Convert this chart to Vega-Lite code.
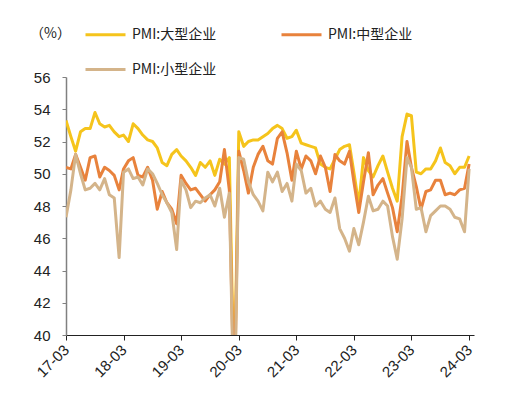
{
  "$schema": "https://vega.github.io/schema/vega-lite/v6.json",
  "width": 408,
  "height": 258,
  "autosize": {"type": "none"},
  "padding": {"left": 66, "top": 77, "right": 56, "bottom": 68},
  "background": "white",
  "data": {
    "values": [
      {"month": "2017-03", "series": "PMI:大型企业", "value": 53.3},
      {"month": "2017-04", "series": "PMI:大型企业", "value": 52.3},
      {"month": "2017-05", "series": "PMI:大型企业", "value": 51.4},
      {"month": "2017-06", "series": "PMI:大型企业", "value": 52.6},
      {"month": "2017-07", "series": "PMI:大型企业", "value": 52.8},
      {"month": "2017-08", "series": "PMI:大型企业", "value": 52.8},
      {"month": "2017-09", "series": "PMI:大型企业", "value": 53.8},
      {"month": "2017-10", "series": "PMI:大型企业", "value": 53.1},
      {"month": "2017-11", "series": "PMI:大型企业", "value": 52.9},
      {"month": "2017-12", "series": "PMI:大型企业", "value": 53.0},
      {"month": "2018-01", "series": "PMI:大型企业", "value": 52.6},
      {"month": "2018-02", "series": "PMI:大型企业", "value": 52.3},
      {"month": "2018-03", "series": "PMI:大型企业", "value": 52.4},
      {"month": "2018-04", "series": "PMI:大型企业", "value": 52.0},
      {"month": "2018-05", "series": "PMI:大型企业", "value": 53.1},
      {"month": "2018-06", "series": "PMI:大型企业", "value": 52.8},
      {"month": "2018-07", "series": "PMI:大型企业", "value": 52.4},
      {"month": "2018-08", "series": "PMI:大型企业", "value": 52.1},
      {"month": "2018-09", "series": "PMI:大型企业", "value": 52.0},
      {"month": "2018-10", "series": "PMI:大型企业", "value": 51.6},
      {"month": "2018-11", "series": "PMI:大型企业", "value": 50.7},
      {"month": "2018-12", "series": "PMI:大型企业", "value": 50.5},
      {"month": "2019-01", "series": "PMI:大型企业", "value": 51.2},
      {"month": "2019-02", "series": "PMI:大型企业", "value": 51.5},
      {"month": "2019-03", "series": "PMI:大型企业", "value": 51.1},
      {"month": "2019-04", "series": "PMI:大型企业", "value": 50.8},
      {"month": "2019-05", "series": "PMI:大型企业", "value": 50.4},
      {"month": "2019-06", "series": "PMI:大型企业", "value": 49.9},
      {"month": "2019-07", "series": "PMI:大型企业", "value": 50.7},
      {"month": "2019-08", "series": "PMI:大型企业", "value": 50.4},
      {"month": "2019-09", "series": "PMI:大型企业", "value": 50.8},
      {"month": "2019-10", "series": "PMI:大型企业", "value": 49.9},
      {"month": "2019-11", "series": "PMI:大型企业", "value": 50.9},
      {"month": "2019-12", "series": "PMI:大型企业", "value": 50.6},
      {"month": "2020-01", "series": "PMI:大型企业", "value": 51.0},
      {"month": "2020-02", "series": "PMI:大型企业", "value": 36.2},
      {"month": "2020-03", "series": "PMI:大型企业", "value": 52.6},
      {"month": "2020-04", "series": "PMI:大型企业", "value": 51.7},
      {"month": "2020-05", "series": "PMI:大型企业", "value": 52.0},
      {"month": "2020-06", "series": "PMI:大型企业", "value": 52.1},
      {"month": "2020-07", "series": "PMI:大型企业", "value": 52.1},
      {"month": "2020-08", "series": "PMI:大型企业", "value": 52.3},
      {"month": "2020-09", "series": "PMI:大型企业", "value": 52.5},
      {"month": "2020-10", "series": "PMI:大型企业", "value": 52.8},
      {"month": "2020-11", "series": "PMI:大型企业", "value": 53.0},
      {"month": "2020-12", "series": "PMI:大型企业", "value": 52.8},
      {"month": "2021-01", "series": "PMI:大型企业", "value": 52.2},
      {"month": "2021-02", "series": "PMI:大型企业", "value": 52.3},
      {"month": "2021-03", "series": "PMI:大型企业", "value": 52.7},
      {"month": "2021-04", "series": "PMI:大型企业", "value": 51.9},
      {"month": "2021-05", "series": "PMI:大型企业", "value": 51.8},
      {"month": "2021-06", "series": "PMI:大型企业", "value": 51.7},
      {"month": "2021-07", "series": "PMI:大型企业", "value": 51.6},
      {"month": "2021-08", "series": "PMI:大型企业", "value": 50.6},
      {"month": "2021-09", "series": "PMI:大型企业", "value": 50.4},
      {"month": "2021-10", "series": "PMI:大型企业", "value": 50.3},
      {"month": "2021-11", "series": "PMI:大型企业", "value": 50.9},
      {"month": "2021-12", "series": "PMI:大型企业", "value": 51.5},
      {"month": "2022-01", "series": "PMI:大型企业", "value": 51.7},
      {"month": "2022-02", "series": "PMI:大型企业", "value": 51.8},
      {"month": "2022-03", "series": "PMI:大型企业", "value": 50.1},
      {"month": "2022-04", "series": "PMI:大型企业", "value": 48.1},
      {"month": "2022-05", "series": "PMI:大型企业", "value": 51.0},
      {"month": "2022-06", "series": "PMI:大型企业", "value": 50.2},
      {"month": "2022-07", "series": "PMI:大型企业", "value": 49.8},
      {"month": "2022-08", "series": "PMI:大型企业", "value": 50.5},
      {"month": "2022-09", "series": "PMI:大型企业", "value": 51.1},
      {"month": "2022-10", "series": "PMI:大型企业", "value": 50.1},
      {"month": "2022-11", "series": "PMI:大型企业", "value": 49.1},
      {"month": "2022-12", "series": "PMI:大型企业", "value": 48.3},
      {"month": "2023-01", "series": "PMI:大型企业", "value": 52.3},
      {"month": "2023-02", "series": "PMI:大型企业", "value": 53.7},
      {"month": "2023-03", "series": "PMI:大型企业", "value": 53.6},
      {"month": "2023-04", "series": "PMI:大型企业", "value": 50.1},
      {"month": "2023-05", "series": "PMI:大型企业", "value": 50.0},
      {"month": "2023-06", "series": "PMI:大型企业", "value": 50.3},
      {"month": "2023-07", "series": "PMI:大型企业", "value": 50.3},
      {"month": "2023-08", "series": "PMI:大型企业", "value": 50.8},
      {"month": "2023-09", "series": "PMI:大型企业", "value": 51.6},
      {"month": "2023-10", "series": "PMI:大型企业", "value": 50.7},
      {"month": "2023-11", "series": "PMI:大型企业", "value": 50.5},
      {"month": "2023-12", "series": "PMI:大型企业", "value": 50.0},
      {"month": "2024-01", "series": "PMI:大型企业", "value": 50.4},
      {"month": "2024-02", "series": "PMI:大型企业", "value": 50.4},
      {"month": "2024-03", "series": "PMI:大型企业", "value": 51.1},

      {"month": "2017-03", "series": "PMI:中型企业", "value": 50.4},
      {"month": "2017-04", "series": "PMI:中型企业", "value": 50.3},
      {"month": "2017-05", "series": "PMI:中型企业", "value": 51.2},
      {"month": "2017-06", "series": "PMI:中型企业", "value": 50.4},
      {"month": "2017-07", "series": "PMI:中型企业", "value": 49.6},
      {"month": "2017-08", "series": "PMI:中型企业", "value": 51.0},
      {"month": "2017-09", "series": "PMI:中型企业", "value": 51.1},
      {"month": "2017-10", "series": "PMI:中型企业", "value": 49.8},
      {"month": "2017-11", "series": "PMI:中型企业", "value": 50.4},
      {"month": "2017-12", "series": "PMI:中型企业", "value": 50.2},
      {"month": "2018-01", "series": "PMI:中型企业", "value": 49.9},
      {"month": "2018-02", "series": "PMI:中型企业", "value": 49.0},
      {"month": "2018-03", "series": "PMI:中型企业", "value": 50.3},
      {"month": "2018-04", "series": "PMI:中型企业", "value": 50.8},
      {"month": "2018-05", "series": "PMI:中型企业", "value": 51.0},
      {"month": "2018-06", "series": "PMI:中型企业", "value": 49.9},
      {"month": "2018-07", "series": "PMI:中型企业", "value": 49.8},
      {"month": "2018-08", "series": "PMI:中型企业", "value": 50.4},
      {"month": "2018-09", "series": "PMI:中型企业", "value": 49.6},
      {"month": "2018-10", "series": "PMI:中型企业", "value": 47.8},
      {"month": "2018-11", "series": "PMI:中型企业", "value": 48.9},
      {"month": "2018-12", "series": "PMI:中型企业", "value": 48.2},
      {"month": "2019-01", "series": "PMI:中型企业", "value": 47.8},
      {"month": "2019-02", "series": "PMI:中型企业", "value": 46.9},
      {"month": "2019-03", "series": "PMI:中型企业", "value": 49.9},
      {"month": "2019-04", "series": "PMI:中型企业", "value": 49.4},
      {"month": "2019-05", "series": "PMI:中型企业", "value": 49.0},
      {"month": "2019-06", "series": "PMI:中型企业", "value": 49.1},
      {"month": "2019-07", "series": "PMI:中型企业", "value": 48.7},
      {"month": "2019-08", "series": "PMI:中型企业", "value": 48.3},
      {"month": "2019-09", "series": "PMI:中型企业", "value": 48.7},
      {"month": "2019-10", "series": "PMI:中型企业", "value": 49.0},
      {"month": "2019-11", "series": "PMI:中型企业", "value": 49.5},
      {"month": "2019-12", "series": "PMI:中型企业", "value": 51.5},
      {"month": "2020-01", "series": "PMI:中型企业", "value": 49.0},
      {"month": "2020-02", "series": "PMI:中型企业", "value": 35.5},
      {"month": "2020-03", "series": "PMI:中型企业", "value": 51.4},
      {"month": "2020-04", "series": "PMI:中型企业", "value": 50.2},
      {"month": "2020-05", "series": "PMI:中型企业", "value": 48.8},
      {"month": "2020-06", "series": "PMI:中型企业", "value": 50.4},
      {"month": "2020-07", "series": "PMI:中型企业", "value": 51.2},
      {"month": "2020-08", "series": "PMI:中型企业", "value": 51.7},
      {"month": "2020-09", "series": "PMI:中型企业", "value": 50.8},
      {"month": "2020-10", "series": "PMI:中型企业", "value": 50.6},
      {"month": "2020-11", "series": "PMI:中型企业", "value": 52.2},
      {"month": "2020-12", "series": "PMI:中型企业", "value": 52.6},
      {"month": "2021-01", "series": "PMI:中型企业", "value": 51.3},
      {"month": "2021-02", "series": "PMI:中型企业", "value": 49.6},
      {"month": "2021-03", "series": "PMI:中型企业", "value": 51.4},
      {"month": "2021-04", "series": "PMI:中型企业", "value": 50.3},
      {"month": "2021-05", "series": "PMI:中型企业", "value": 51.1},
      {"month": "2021-06", "series": "PMI:中型企业", "value": 50.8},
      {"month": "2021-07", "series": "PMI:中型企业", "value": 50.0},
      {"month": "2021-08", "series": "PMI:中型企业", "value": 51.1},
      {"month": "2021-09", "series": "PMI:中型企业", "value": 50.4},
      {"month": "2021-10", "series": "PMI:中型企业", "value": 48.9},
      {"month": "2021-11", "series": "PMI:中型企业", "value": 51.2},
      {"month": "2021-12", "series": "PMI:中型企业", "value": 50.8},
      {"month": "2022-01", "series": "PMI:中型企业", "value": 50.6},
      {"month": "2022-02", "series": "PMI:中型企业", "value": 51.4},
      {"month": "2022-03", "series": "PMI:中型企业", "value": 49.5},
      {"month": "2022-04", "series": "PMI:中型企业", "value": 47.6},
      {"month": "2022-05", "series": "PMI:中型企业", "value": 49.5},
      {"month": "2022-06", "series": "PMI:中型企业", "value": 51.3},
      {"month": "2022-07", "series": "PMI:中型企业", "value": 48.7},
      {"month": "2022-08", "series": "PMI:中型企业", "value": 49.3},
      {"month": "2022-09", "series": "PMI:中型企业", "value": 49.7},
      {"month": "2022-10", "series": "PMI:中型企业", "value": 48.8},
      {"month": "2022-11", "series": "PMI:中型企业", "value": 47.9},
      {"month": "2022-12", "series": "PMI:中型企业", "value": 46.4},
      {"month": "2023-01", "series": "PMI:中型企业", "value": 48.6},
      {"month": "2023-02", "series": "PMI:中型企业", "value": 52.0},
      {"month": "2023-03", "series": "PMI:中型企业", "value": 50.4},
      {"month": "2023-04", "series": "PMI:中型企业", "value": 49.2},
      {"month": "2023-05", "series": "PMI:中型企业", "value": 47.8},
      {"month": "2023-06", "series": "PMI:中型企业", "value": 48.9},
      {"month": "2023-07", "series": "PMI:中型企业", "value": 49.0},
      {"month": "2023-08", "series": "PMI:中型企业", "value": 49.6},
      {"month": "2023-09", "series": "PMI:中型企业", "value": 49.6},
      {"month": "2023-10", "series": "PMI:中型企业", "value": 48.7},
      {"month": "2023-11", "series": "PMI:中型企业", "value": 48.8},
      {"month": "2023-12", "series": "PMI:中型企业", "value": 48.7},
      {"month": "2024-01", "series": "PMI:中型企业", "value": 49.0},
      {"month": "2024-02", "series": "PMI:中型企业", "value": 49.1},
      {"month": "2024-03", "series": "PMI:中型企业", "value": 50.6},

      {"month": "2017-03", "series": "PMI:小型企业", "value": 47.3},
      {"month": "2017-04", "series": "PMI:小型企业", "value": 49.0},
      {"month": "2017-05", "series": "PMI:小型企业", "value": 51.2},
      {"month": "2017-06", "series": "PMI:小型企业", "value": 50.0},
      {"month": "2017-07", "series": "PMI:小型企业", "value": 49.0},
      {"month": "2017-08", "series": "PMI:小型企业", "value": 49.1},
      {"month": "2017-09", "series": "PMI:小型企业", "value": 49.4},
      {"month": "2017-10", "series": "PMI:小型企业", "value": 49.0},
      {"month": "2017-11", "series": "PMI:小型企业", "value": 49.7},
      {"month": "2017-12", "series": "PMI:小型企业", "value": 48.7},
      {"month": "2018-01", "series": "PMI:小型企业", "value": 48.5},
      {"month": "2018-02", "series": "PMI:小型企业", "value": 44.8},
      {"month": "2018-03", "series": "PMI:小型企业", "value": 50.1},
      {"month": "2018-04", "series": "PMI:小型企业", "value": 50.3},
      {"month": "2018-05", "series": "PMI:小型企业", "value": 49.7},
      {"month": "2018-06", "series": "PMI:小型企业", "value": 49.8},
      {"month": "2018-07", "series": "PMI:小型企业", "value": 49.3},
      {"month": "2018-08", "series": "PMI:小型企业", "value": 50.3},
      {"month": "2018-09", "series": "PMI:小型企业", "value": 50.0},
      {"month": "2018-10", "series": "PMI:小型企业", "value": 49.4},
      {"month": "2018-11", "series": "PMI:小型企业", "value": 48.7},
      {"month": "2018-12", "series": "PMI:小型企业", "value": 48.2},
      {"month": "2019-01", "series": "PMI:小型企业", "value": 47.6},
      {"month": "2019-02", "series": "PMI:小型企业", "value": 45.3},
      {"month": "2019-03", "series": "PMI:小型企业", "value": 49.6},
      {"month": "2019-04", "series": "PMI:小型企业", "value": 49.0},
      {"month": "2019-05", "series": "PMI:小型企业", "value": 47.9},
      {"month": "2019-06", "series": "PMI:小型企业", "value": 48.3},
      {"month": "2019-07", "series": "PMI:小型企业", "value": 48.2},
      {"month": "2019-08", "series": "PMI:小型企业", "value": 48.5},
      {"month": "2019-09", "series": "PMI:小型企业", "value": 48.7},
      {"month": "2019-10", "series": "PMI:小型企业", "value": 48.0},
      {"month": "2019-11", "series": "PMI:小型企业", "value": 49.1},
      {"month": "2019-12", "series": "PMI:小型企业", "value": 47.3},
      {"month": "2020-01", "series": "PMI:小型企业", "value": 48.8},
      {"month": "2020-02", "series": "PMI:小型企业", "value": 34.1},
      {"month": "2020-03", "series": "PMI:小型企业", "value": 51.0},
      {"month": "2020-04", "series": "PMI:小型企业", "value": 50.9},
      {"month": "2020-05", "series": "PMI:小型企业", "value": 49.5},
      {"month": "2020-06", "series": "PMI:小型企业", "value": 48.7},
      {"month": "2020-07", "series": "PMI:小型企业", "value": 48.3},
      {"month": "2020-08", "series": "PMI:小型企业", "value": 47.7},
      {"month": "2020-09", "series": "PMI:小型企业", "value": 50.1},
      {"month": "2020-10", "series": "PMI:小型企业", "value": 49.5},
      {"month": "2020-11", "series": "PMI:小型企业", "value": 50.1},
      {"month": "2020-12", "series": "PMI:小型企业", "value": 48.9},
      {"month": "2021-01", "series": "PMI:小型企业", "value": 49.4},
      {"month": "2021-02", "series": "PMI:小型企业", "value": 48.3},
      {"month": "2021-03", "series": "PMI:小型企业", "value": 50.6},
      {"month": "2021-04", "series": "PMI:小型企业", "value": 50.2},
      {"month": "2021-05", "series": "PMI:小型企业", "value": 48.8},
      {"month": "2021-06", "series": "PMI:小型企业", "value": 49.1},
      {"month": "2021-07", "series": "PMI:小型企业", "value": 48.0},
      {"month": "2021-08", "series": "PMI:小型企业", "value": 48.3},
      {"month": "2021-09", "series": "PMI:小型企业", "value": 47.8},
      {"month": "2021-10", "series": "PMI:小型企业", "value": 47.6},
      {"month": "2021-11", "series": "PMI:小型企业", "value": 48.5},
      {"month": "2021-12", "series": "PMI:小型企业", "value": 46.6},
      {"month": "2022-01", "series": "PMI:小型企业", "value": 46.0},
      {"month": "2022-02", "series": "PMI:小型企业", "value": 45.2},
      {"month": "2022-03", "series": "PMI:小型企业", "value": 46.6},
      {"month": "2022-04", "series": "PMI:小型企业", "value": 45.6},
      {"month": "2022-05", "series": "PMI:小型企业", "value": 47.0},
      {"month": "2022-06", "series": "PMI:小型企业", "value": 48.6},
      {"month": "2022-07", "series": "PMI:小型企业", "value": 47.7},
      {"month": "2022-08", "series": "PMI:小型企业", "value": 47.8},
      {"month": "2022-09", "series": "PMI:小型企业", "value": 48.3},
      {"month": "2022-10", "series": "PMI:小型企业", "value": 48.0},
      {"month": "2022-11", "series": "PMI:小型企业", "value": 46.1},
      {"month": "2022-12", "series": "PMI:小型企业", "value": 44.7},
      {"month": "2023-01", "series": "PMI:小型企业", "value": 47.2},
      {"month": "2023-02", "series": "PMI:小型企业", "value": 51.0},
      {"month": "2023-03", "series": "PMI:小型企业", "value": 50.4},
      {"month": "2023-04", "series": "PMI:小型企业", "value": 47.8},
      {"month": "2023-05", "series": "PMI:小型企业", "value": 47.9},
      {"month": "2023-06", "series": "PMI:小型企业", "value": 46.4},
      {"month": "2023-07", "series": "PMI:小型企业", "value": 47.4},
      {"month": "2023-08", "series": "PMI:小型企业", "value": 47.7},
      {"month": "2023-09", "series": "PMI:小型企业", "value": 48.0},
      {"month": "2023-10", "series": "PMI:小型企业", "value": 48.0},
      {"month": "2023-11", "series": "PMI:小型企业", "value": 47.8},
      {"month": "2023-12", "series": "PMI:小型企业", "value": 47.3},
      {"month": "2024-01", "series": "PMI:小型企业", "value": 47.2},
      {"month": "2024-02", "series": "PMI:小型企业", "value": 46.4},
      {"month": "2024-03", "series": "PMI:小型企业", "value": 50.3}
    ],
    "format": {"parse": {"month": "utc:'%Y-%m'"}}
  },
  "mark": {"type": "line", "strokeWidth": 3, "clip": true, "strokeJoin": "round"},
  "encoding": {
    "x": {
      "field": "month",
      "type": "temporal",
      "scale": {
        "type": "utc",
        "domain": [
          {"year": 2017, "month": 3, "date": 1, "utc": true},
          {"year": 2024, "month": 4, "date": 1, "utc": true}
        ]
      },
      "axis": {
        "title": null,
        "format": "%y-%m",
        "values": [
          {"year": 2017, "month": 3, "date": 1, "utc": true},
          {"year": 2018, "month": 3, "date": 1, "utc": true},
          {"year": 2019, "month": 3, "date": 1, "utc": true},
          {"year": 2020, "month": 3, "date": 1, "utc": true},
          {"year": 2021, "month": 3, "date": 1, "utc": true},
          {"year": 2022, "month": 3, "date": 1, "utc": true},
          {"year": 2023, "month": 3, "date": 1, "utc": true},
          {"year": 2024, "month": 3, "date": 1, "utc": true}
        ],
        "grid": false,
        "labelAngle": -45,
        "labelAlign": "right",
        "labelBaseline": "middle",
        "labelPadding": 7,
        "labelFontSize": 15,
        "labelColor": "#222222",
        "labelFont": "Liberation Sans",
        "domainColor": "#222222",
        "tickColor": "#222222",
        "tickSize": 5,
        "labelOverlap": false
      }
    },
    "y": {
      "field": "value",
      "type": "quantitative",
      "scale": {"domain": [40, 56], "nice": false, "zero": false},
      "axis": {
        "title": "（%）",
        "titleAngle": 0,
        "titleX": -16,
        "titleY": -44,
        "titleAlign": "center",
        "titleBaseline": "middle",
        "titleFontSize": 14,
        "titleFontWeight": "normal",
        "titleFont": "Noto Sans CJK SC",
        "titleColor": "#222222",
        "values": [40, 42, 44, 46, 48, 50, 52, 54, 56],
        "grid": false,
        "labelFontSize": 15,
        "labelColor": "#222222",
        "labelFont": "Liberation Sans",
        "labelPadding": 12,
        "domainColor": "#808080",
        "domainWidth": 1.5,
        "tickColor": "#808080",
        "tickSize": 4
      }
    },
    "color": {
      "field": "series",
      "type": "nominal",
      "scale": {
        "domain": ["PMI:大型企业", "PMI:中型企业", "PMI:小型企业"],
        "range": ["#F5C41C", "#E8823C", "#D4B48A"]
      },
      "legend": {
        "title": null,
        "orient": "none",
        "legendX": 18,
        "legendY": -64,
        "direction": "horizontal",
        "columns": 2,
        "columnPadding": 58,
        "rowPadding": 6,
        "symbolType": "stroke",
        "symbolSize": 1600,
        "symbolStrokeWidth": 3,
        "labelFontSize": 14,
        "labelFont": "Noto Sans CJK SC",
        "labelColor": "#222222",
        "labelOffset": 5
      }
    }
  },
  "config": {
    "view": {"stroke": null},
    "font": "Liberation Sans"
  }
}
